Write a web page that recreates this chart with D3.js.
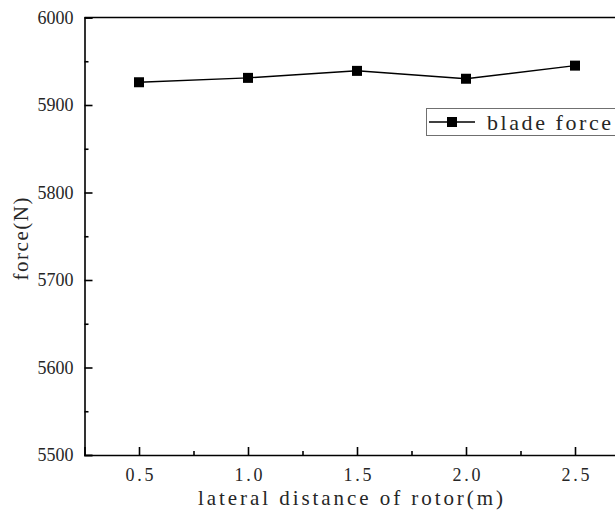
<!DOCTYPE html>
<html>
<head>
<meta charset="utf-8">
<script src="https://cdn.jsdelivr.net/npm/d3@7"></script>
<style>
  html, body { margin: 0; padding: 0; background: #fff; }
  svg { display: block; }
</style>
</head>
<body>
<svg id="chart" width="615" height="518"></svg>
<script>
// Blade force versus lateral rotor distance
const distances = [0.5, 1.0, 1.5, 2.0, 2.5];
const bladeForce = [5926, 5931, 5939, 5930, 5945];
const xMajorTicks = [0.5, 1.0, 1.5, 2.0, 2.5];
const xMinorTicks = [0.75, 1.25, 1.75, 2.25];
const yMajorTicks = [5500, 5600, 5700, 5800, 5900, 6000];
const yMinorTicks = [5550, 5650, 5750, 5850, 5950];
const seriesName = "blade force";
const xTitle = "lateral distance of rotor(m)";
const yTitle = "force(N)";

const svg = d3.select("#chart");
const plotLeft = 84.5, plotRight = 629.5, plotTop = 17.5, plotBottom = 455;

const x = d3.scaleLinear().domain([0.25, 2.75]).range([plotLeft, plotRight]);
const y = d3.scaleLinear().domain([5500, 6000]).range([plotBottom, plotTop]);

const serifFont = "'Liberation Serif', 'DejaVu Serif', serif";
const textColor = "#262626";

// frame (top and right edges)
svg.append("path")
  .attr("d", `M${plotLeft},${plotTop}H${plotRight}V${plotBottom}`)
  .attr("fill", "none").attr("stroke", "#000").attr("stroke-width", 1.6);

// x axis: major ticks with labels, minor ticks inward
const xAxis = svg.append("g").attr("transform", `translate(0,${plotBottom})`)
  .call(d3.axisBottom(x).tickValues(xMajorTicks).tickSize(-8).tickPadding(13)
    .tickFormat(d3.format(".1f")));
svg.append("g").attr("transform", `translate(0,${plotBottom})`)
  .call(d3.axisBottom(x).tickValues(xMinorTicks).tickSize(-4).tickFormat(""))
  .call(g => g.select(".domain").remove());

// y axis
const yAxis = svg.append("g").attr("transform", `translate(${plotLeft},0)`)
  .call(d3.axisLeft(y).tickValues(yMajorTicks).tickSize(-8).tickPadding(11)
    .tickFormat(d3.format("d")));
svg.append("g").attr("transform", `translate(${plotLeft},0)`)
  .call(d3.axisLeft(y).tickValues(yMinorTicks).tickSize(-4).tickFormat(""))
  .call(g => g.select(".domain").remove());

svg.selectAll(".domain").attr("stroke", "#000").attr("stroke-width", 1.6);
svg.selectAll(".tick line").attr("stroke", "#000").attr("stroke-width", 1.6);

// x tick labels spaced out like a fixed-width face
xAxis.selectAll("text")
  .attr("font-family", serifFont).attr("font-size", 18).attr("fill", textColor)
  .attr("textLength", 28).attr("lengthAdjust", "spacing");
yAxis.selectAll("text")
  .attr("font-family", serifFont).attr("font-size", 18).attr("fill", textColor);

// axis titles
svg.append("text")
  .attr("x", 350.5).attr("y", 505)
  .attr("text-anchor", "middle")
  .attr("font-family", serifFont).attr("font-size", 21).attr("fill", textColor)
  .attr("textLength", 305).attr("lengthAdjust", "spacing")
  .text(xTitle);

svg.append("text")
  .attr("transform", `translate(28,239) rotate(-90)`)
  .attr("text-anchor", "middle")
  .attr("font-family", serifFont).attr("font-size", 21).attr("fill", textColor)
  .attr("textLength", 83).attr("lengthAdjust", "spacing")
  .text(yTitle);

// series line and square markers
const line = d3.line().x((d, i) => x(distances[i])).y(d => y(d));
svg.append("path")
  .datum(bladeForce)
  .attr("d", line)
  .attr("fill", "none").attr("stroke", "#000").attr("stroke-width", 1.5);

const ms = 10;
svg.selectAll("rect.marker")
  .data(bladeForce)
  .join("rect")
  .attr("class", "marker")
  .attr("x", (d, i) => x(distances[i]) - ms / 2)
  .attr("y", d => y(d) - ms / 2)
  .attr("width", ms).attr("height", ms)
  .attr("fill", "#000");

// legend
const legend = svg.append("g");
legend.append("rect")
  .attr("x", 426.5).attr("y", 108.5).attr("width", 220).attr("height", 27)
  .attr("fill", "#fff").attr("stroke", "#707070").attr("stroke-width", 1);
legend.append("line")
  .attr("x1", 429).attr("x2", 475).attr("y1", 122).attr("y2", 122)
  .attr("stroke", "#000").attr("stroke-width", 1.5);
legend.append("rect")
  .attr("x", 452 - ms / 2).attr("y", 122 - ms / 2)
  .attr("width", ms).attr("height", ms).attr("fill", "#000");
legend.append("text")
  .attr("x", 487).attr("y", 122).attr("dy", "0.35em")
  .attr("font-family", serifFont).attr("font-size", 22).attr("fill", textColor)
  .attr("textLength", 124).attr("lengthAdjust", "spacing")
  .text(seriesName);
</script>
</body>
</html>
